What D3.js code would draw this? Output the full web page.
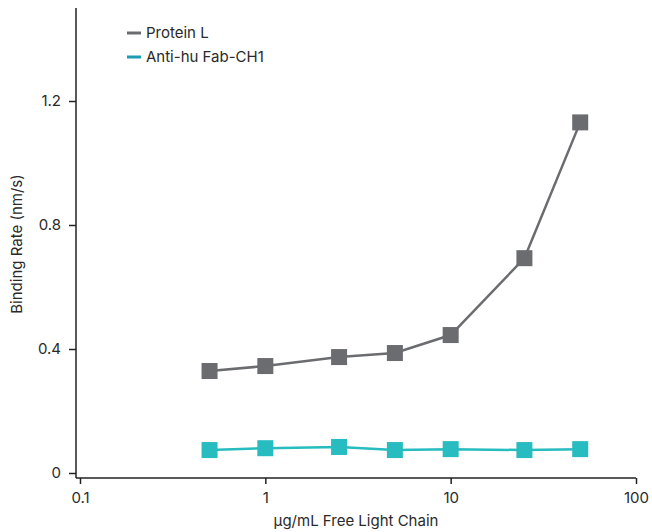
<!DOCTYPE html>
<html><head><meta charset="utf-8">
<script src="https://cdn.jsdelivr.net/npm/d3@7"></script>
<style>
body{margin:0;background:#fff;}
text{font-family:Inter,"Noto Sans",sans-serif;fill:#2a2a2a;}
</style></head>
<body><svg id="c" width="652" height="532"></svg>
<script>
const concentrations = [0.5, 1, 2.5, 5, 10, 25, 50];
const proteinL = [0.329, 0.345, 0.374, 0.387, 0.445, 0.693, 1.131];
const antiHuFab = [0.074, 0.080, 0.084, 0.074, 0.077, 0.074, 0.077];
const xTicks = [0.1, 1, 10, 100];
const yTicks = [0, 0.4, 0.8, 1.2];
const seriesNames = ["Protein L", "Anti-hu Fab-CH1"];
const seriesColors = ["#6b6c70", "#27bcbf"];
const legendColors = ["#6b6c70", "#1b9cb0"];

const svg = d3.select("#c");
const x = d3.scaleLog().domain([0.1, 100]).range([80, 636]);
const y = d3.scaleLinear().domain([0, 1.5]).range([473, 8]);
const axisY = 478, axisX = 76;
const fs = "15px";

// y axis
const gy = svg.append("g").attr("transform", `translate(${axisX},0)`)
  .call(d3.axisLeft(y).tickValues(yTicks).tickSize(7).tickPadding(8).tickFormat(d => d === 0 ? "0" : d3.format(".1f")(d)));
gy.select(".domain").attr("d", `M0,${y(1.5)}V${axisY}`).attr("stroke", "#222").attr("stroke-width", 1.5);
gy.selectAll(".tick line").attr("stroke", "#222").attr("stroke-width", 1.5);
gy.selectAll(".tick text").style("font-size", fs).style("font-family", "Inter,sans-serif").attr("fill", "#2a2a2a");

// x axis
const gx = svg.append("g").attr("transform", `translate(0,${axisY})`)
  .call(d3.axisBottom(x).tickValues(xTicks).tickSize(6).tickPadding(8).tickFormat(d => String(d)));
gx.select(".domain").attr("d", `M${axisX},0H${x(100)}`).attr("stroke", "#222").attr("stroke-width", 1.5);
gx.selectAll(".tick line").attr("stroke", "#222").attr("stroke-width", 1.5);
gx.selectAll(".tick text").style("font-size", fs).style("font-family", "Inter,sans-serif").attr("fill", "#2a2a2a");

// axis titles
svg.append("text").attr("x", 356).attr("y", 526).attr("text-anchor", "middle")
  .style("font-size", fs).text("µg/mL Free Light Chain");
svg.append("text").attr("transform", "translate(22,244) rotate(-90)").attr("text-anchor", "middle")
  .style("font-size", fs).text("Binding Rate (nm/s)");

// series
const allSeries = [proteinL, antiHuFab];
const line = d3.line().x((d, i) => x(concentrations[i])).y(d => y(d));
const ms = 16;
allSeries.forEach((vals, si) => {
  svg.append("path").datum(vals).attr("d", line).attr("fill", "none")
    .attr("stroke", seriesColors[si]).attr("stroke-width", 2.5);
  svg.selectAll(null).data(vals).enter().append("rect")
    .attr("x", (d, i) => x(concentrations[i]) - ms / 2)
    .attr("y", d => y(d) - ms / 2)
    .attr("width", ms).attr("height", ms)
    .attr("fill", seriesColors[si]);
});

// legend
seriesNames.forEach((n, i) => {
  const ly = 33 + i * 24;
  svg.append("line").attr("x1", 127).attr("x2", 141).attr("y1", ly).attr("y2", ly)
    .attr("stroke", legendColors[i]).attr("stroke-width", 3);
  svg.append("text").attr("x", 146).attr("y", ly + 5).style("font-size", fs).text(n);
});
</script></body></html>
